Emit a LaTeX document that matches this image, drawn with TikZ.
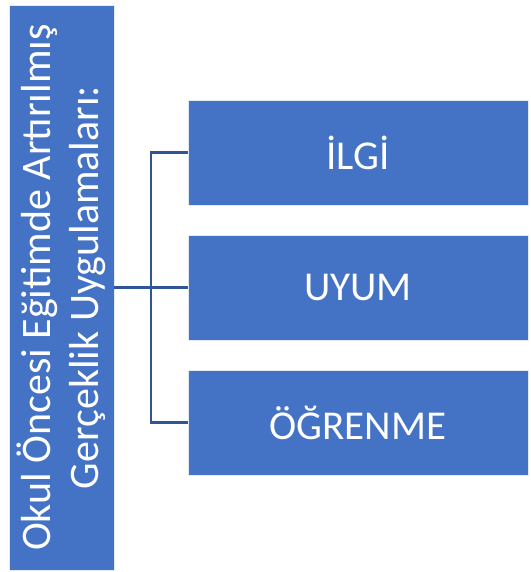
\documentclass[tikz,border=0pt]{standalone}
\usepackage{fontspec}
\setmainfont{Carlito}
\definecolor{boxblue}{HTML}{4472C4}
\definecolor{linkblue}{HTML}{2F5597}
\begin{document}
\begin{tikzpicture}[x=1pt,y=-1pt,
  panel/.style={fill=boxblue,draw=white!85!boxblue,line width=0.8pt},
  label/.style={text=white,font=\fontsize{41}{48}\selectfont},
  link/.style={draw=linkblue,line width=2.6pt}]
\useasboundingbox (0,0) rectangle (530,572);
% left title panel with rotated two-line heading
\draw[panel] (9,5) rectangle (114,570);
\node[label,rotate=90,align=center,font=\fontsize{42}{48}\selectfont] (title) at (61.5,287.5)
  {Okul Öncesi Eğitimde Artırılmış\\Gerçeklik Uygulamaları:};
\coordinate (titleR) at (114,287.5);
% right panels
\draw[panel] (188,100) rectangle (528,205);
\node[label] (ilgi) at (358,152.5) {İLGİ};
\draw[panel] (188,235) rectangle (528,340);
\node[label] (uyum) at (358,287.5) {UYUM};
\draw[panel] (188,370) rectangle (528,475);
\node[label] (ogrenme) at (358,422.5) {ÖĞRENME};
\coordinate (aL) at (188,152.5);
\coordinate (bL) at (188,287.5);
\coordinate (cL) at (188,422.5);
\coordinate (trunk) at (151,287.5);
% bracket connectors
\draw[link] (titleR) -- (bL);
\draw[link] (aL) -| (trunk) |- (cL);
\end{tikzpicture}
\end{document}
